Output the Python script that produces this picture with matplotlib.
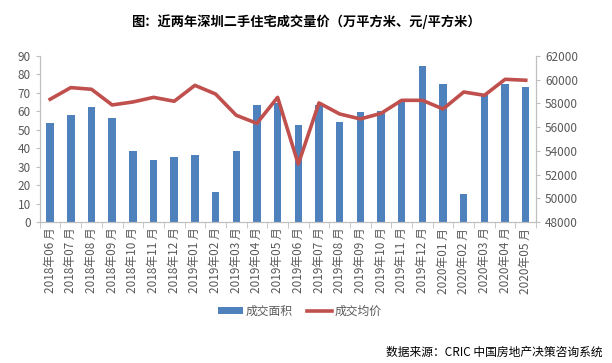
import numpy as np
import matplotlib.pyplot as plt

plt.rcParams['font.family'] = ['Noto Sans CJK SC', 'DejaVu Sans']

months = ['2018年06 月', '2018年07 月', '2018年08 月', '2018年09 月', '2018年10 月', '2018年11 月',
          '2018年12 月', '2019年01 月', '2019年02 月', '2019年03 月', '2019年04 月', '2019年05 月',
          '2019年06 月', '2019年07 月', '2019年08 月', '2019年09 月', '2019年10 月', '2019年11 月',
          '2019年12 月', '2020年01 月', '2020年02 月', '2020年03 月', '2020年04 月', '2020年05 月']

# 成交面积 (万平方米)
area = [53.7, 58.0, 62.4, 56.4, 38.5, 33.6, 35.2, 36.3, 16.3, 38.5, 63.4, 64.5,
        52.6, 63.5, 54.2, 59.6, 60.4, 66.1, 84.6, 74.8, 15.2, 68.7, 74.8, 73.2]

# 成交均价 (元/平方米)
price = [58350, 59330, 59190, 57870, 58120, 58510, 58180, 59520, 58790, 57000, 56320, 58510,
         52890, 58040, 57110, 56690, 57160, 58260, 58260, 57530, 58960, 58680, 60030, 59950]

bar_color = '#4F81BD'
line_color = '#C0504D'
axis_gray = '#BFBFBF'
text_gray = '#595959'

fig = plt.figure(figsize=(6.12, 3.63), dpi=100)
ax = fig.add_axes([0.065, 0.388, 0.811, 0.458])
ax2 = ax.twinx()

x = np.arange(len(months))
b = ax.bar(x, area, width=0.36, color=bar_color, label='成交面积', zorder=2)
l, = ax2.plot(x, price, color=line_color, lw=2.6, label='成交均价', zorder=3)

ax.set_xlim(-0.5, len(months) - 0.5)
ax.set_ylim(0, 90)
ax.set_yticks(range(0, 91, 10))
ax2.set_ylim(48000, 62000)
ax2.set_yticks(range(48000, 62001, 2000))

ax.set_xticks(x)
ax.set_xticklabels(months, rotation=90, fontsize=8.5, color=text_gray)
ax.set_xticks(np.arange(-0.5, len(months), 1), minor=True)
ax.tick_params(axis='x', which='major', length=0, pad=4)
ax.tick_params(axis='x', which='minor', length=4, color=axis_gray)
ax.tick_params(axis='y', labelsize=8.5, colors=text_gray, length=3, color=axis_gray)
ax2.tick_params(axis='y', labelsize=8.5, colors=text_gray, length=3, color=axis_gray)

for a in (ax, ax2):
    a.spines['top'].set_visible(False)
    for s in ('left', 'right', 'bottom'):
        a.spines[s].set_color(axis_gray)

# put line above bars
ax2.set_zorder(ax.get_zorder() + 1)
ax2.patch.set_visible(False)

fig.text(0.5, 0.94, '图：近两年深圳二手住宅成交量价（万平方米、元/平方米）',
         ha='center', va='center', fontsize=9.5, fontweight='bold')

fig.legend([b, l], ['成交面积', '成交均价'], loc='center', bbox_to_anchor=(0.49, 0.143),
           ncol=2, frameon=False, fontsize=8.5, handlelength=2.1, handleheight=0.5,
           handletextpad=0.25, columnspacing=1.2, labelcolor=text_gray)

fig.text(0.985, 0.03, '数据来源：CRIC 中国房地产决策咨询系统', ha='right', va='center', fontsize=8.5)

fig.savefig('out.png', dpi=100, facecolor='white')
